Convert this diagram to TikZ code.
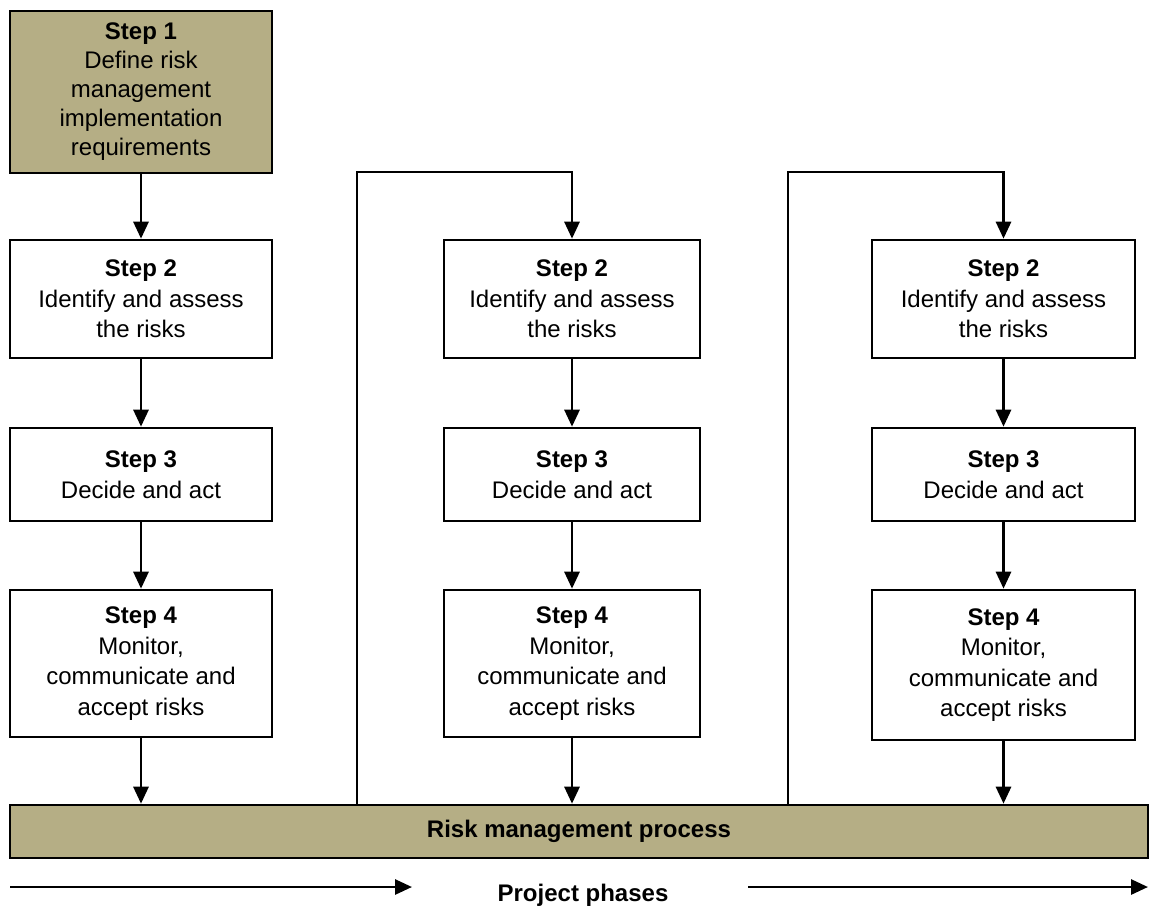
\documentclass[tikz,border=0pt]{standalone}
\usepackage{fontspec}
\setmainfont{Liberation Sans}
\usetikzlibrary{arrows.meta}
\definecolor{tan}{RGB}{181,174,133}
\tikzset{
  box/.style={draw=black, line width=2.6pt, fill=white, align=center, inner sep=0pt,
    font=\fontsize{24}{30.5}\selectfont},
  tanbox/.style={box, fill=tan},
  arr/.style={line width=2.8pt, -{Triangle[length=17pt,width=15pt]}},
}
\begin{document}
\begin{tikzpicture}[x=1pt,y=-1pt]
\useasboundingbox (0,0) rectangle (1150,913);
% column 1
\node[tanbox, minimum width=262pt, minimum height=162pt, font=\fontsize{24}{29}\selectfont] (s1) at (141,92)
  {\textbf{Step 1}\\Define risk\\management\\implementation\\requirements};
\node[box, minimum width=262pt, minimum height=118pt] (a2) at (141,299)
  {\textbf{Step 2}\\Identify and assess\\the risks};
\node[box, minimum width=262pt, minimum height=93pt] (a3) at (141,474.5)
  {\textbf{Step 3}\\Decide and act};
\node[box, minimum width=262pt, minimum height=147pt] (a4) at (141,663.5)
  {\textbf{Step 4}\\Monitor,\\communicate and\\accept risks};
% column 2
\node[box, minimum width=256pt, minimum height=118pt] (b2) at (572,299)
  {\textbf{Step 2}\\Identify and assess\\the risks};
\node[box, minimum width=256pt, minimum height=93pt] (b3) at (572,474.5)
  {\textbf{Step 3}\\Decide and act};
\node[box, minimum width=256pt, minimum height=147pt] (b4) at (572,663.5)
  {\textbf{Step 4}\\Monitor,\\communicate and\\accept risks};
% column 3
\node[box, minimum width=263pt, minimum height=118pt] (c2) at (1003.5,299)
  {\textbf{Step 2}\\Identify and assess\\the risks};
\node[box, minimum width=263pt, minimum height=93pt] (c3) at (1003.5,474.5)
  {\textbf{Step 3}\\Decide and act};
\node[box, minimum width=263pt, minimum height=150pt] (c4) at (1003.5,665)
  {\textbf{Step 4}\\Monitor,\\communicate and\\accept risks};
% bar
\node[tanbox, minimum width=1138pt, minimum height=53pt, font=\fontsize{24}{28}\selectfont\bfseries] (bar) at (579,831.5)
  {Risk management process};
% arrows
\draw[arr] (s1) -- (a2);
\draw[arr] (a2) -- (a3);
\draw[arr] (a3) -- (a4);
\draw[arr] (a4) -- (a4.south |- bar.north);
\draw[arr] (b2) -- (b3);
\draw[arr] (b3) -- (b4);
\draw[arr] (b4) -- (b4.south |- bar.north);
\draw[arr] (c2) -- (c3);
\draw[arr] (c3) -- (c4);
\draw[arr] (c4) -- (c4.south |- bar.north);
% feedback lines
\coordinate (f1b) at (357,805);
\coordinate (f1t) at (357,172);
\coordinate (f2b) at (788,805);
\coordinate (f2t) at (788,172);
\draw[arr] (f1b) -- (f1t) -| (b2.north);
\draw[arr] (f2b) -- (f2t) -| (c2.north);
% project phases
\node[font=\fontsize{24}{28}\selectfont\bfseries] (pp) at (583,895) {Project phases};
\coordinate (p1s) at (10,887);
\coordinate (p1e) at (412,887);
\coordinate (p2s) at (748,887);
\coordinate (p2e) at (1148,887);
\draw[arr] (p1s) -- (p1e);
\draw[arr] (p2s) -- (p2e);
\end{tikzpicture}
\end{document}
